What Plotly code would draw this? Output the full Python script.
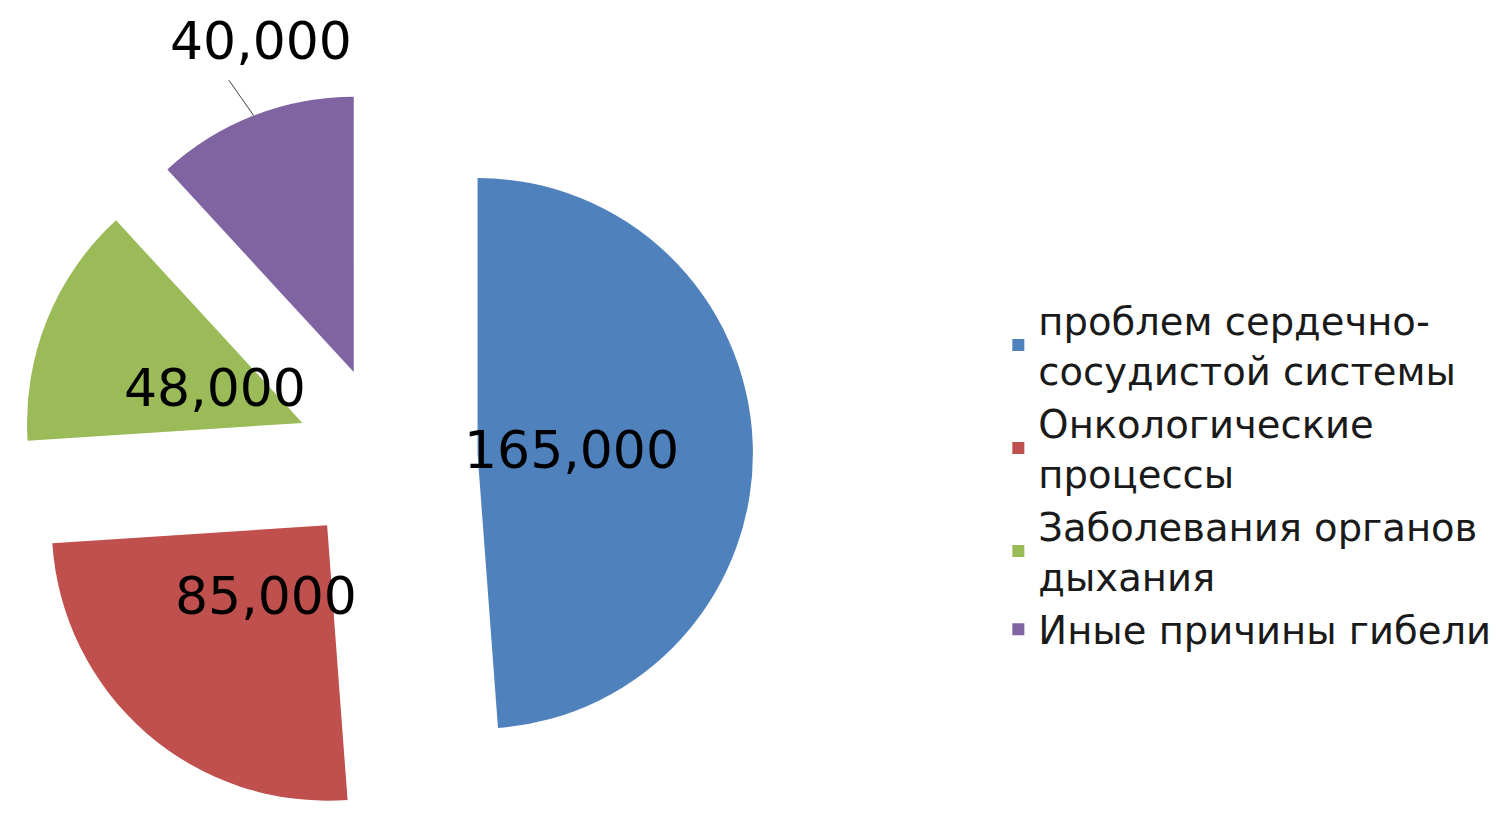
import math
import plotly.graph_objects as go

# Causes of death and counts
causes = [
    "проблем сердечно-<br>сосудистой системы",
    "Онкологические<br>процессы",
    "Заболевания органов<br>дыхания",
    "Иные причины гибели",
]
deaths = [165000, 85000, 48000, 40000]
slice_colors = ["#4F81BD", "#C0504D", "#9BBB59", "#8064A2"]
explode = [0.33, 0.33, 0.33, 0.33]
label_outside = [False, False, False, True]

W, H = 1499, 823
dom_x = [0.0, 0.516]
dom_y = [0.0, 0.89]

fig = go.Figure(
    go.Pie(
        labels=causes,
        values=deaths,
        sort=False,
        direction="clockwise",
        rotation=0,
        pull=explode,
        automargin=False,
        marker=dict(colors=slice_colors, line=dict(width=0)),
        textinfo="none",
        domain=dict(x=dom_x, y=dom_y),
        hoverinfo="label+value",
    )
)

# Pie geometry (same rules plotly uses to size the pie in its domain)
box_w = W * (dom_x[1] - dom_x[0])
box_h = H * (dom_y[1] - dom_y[0])
cx = W * (dom_x[0] + dom_x[1]) / 2
cy = H * (1 - dom_y[0]) - box_h / 2
radius = min(box_w, box_h) / (2 * (1 + max(explode)))

label_font = dict(size=52, color="black", family="DejaVu Sans")
total = sum(deaths)
cum = 0
for value, pull, outside in zip(deaths, explode, label_outside):
    mid = 2 * math.pi * (cum + value / 2) / total
    cum += value
    ux, uy = math.sin(mid), -math.cos(mid)
    apex_x = cx + pull * radius * ux
    apex_y = cy + pull * radius * uy
    text = f"{value:,}"
    if not outside:
        px = apex_x + 0.34 * radius * ux
        py = apex_y + 0.34 * radius * uy
        fig.add_annotation(
            x=px / W, y=1 - py / H, xref="paper", yref="paper",
            text=text, showarrow=False, font=label_font,
            xanchor="center", yanchor="middle",
        )
    else:
        tip_x = apex_x + radius * ux
        tip_y = apex_y + radius * uy
        # leader line from the slice edge toward the label
        fig.add_annotation(
            x=tip_x / W, y=1 - tip_y / H, xref="paper", yref="paper",
            text="", showarrow=True, arrowhead=0, arrowwidth=1,
            arrowcolor="#404040", ax=-26, ay=-37, standoff=0,
        )
        fig.add_annotation(
            x=(tip_x + 7) / W, y=1 - (tip_y - 75) / H, xref="paper", yref="paper",
            text=text, showarrow=False, font=label_font,
            xanchor="center", yanchor="middle",
        )

fig.update_layout(
    width=W,
    height=H,
    margin=dict(l=0, r=0, t=0, b=0),
    paper_bgcolor="white",
    plot_bgcolor="white",
    showlegend=True,
    legend=dict(
        x=0.666,
        y=0.423,
        xanchor="left",
        yanchor="middle",
        font=dict(size=38.5, color="#1a1a1a", family="DejaVu Sans"),
        bgcolor="rgba(0,0,0,0)",
        valign="middle",
    ),
)

fig.write_html("out.html")
